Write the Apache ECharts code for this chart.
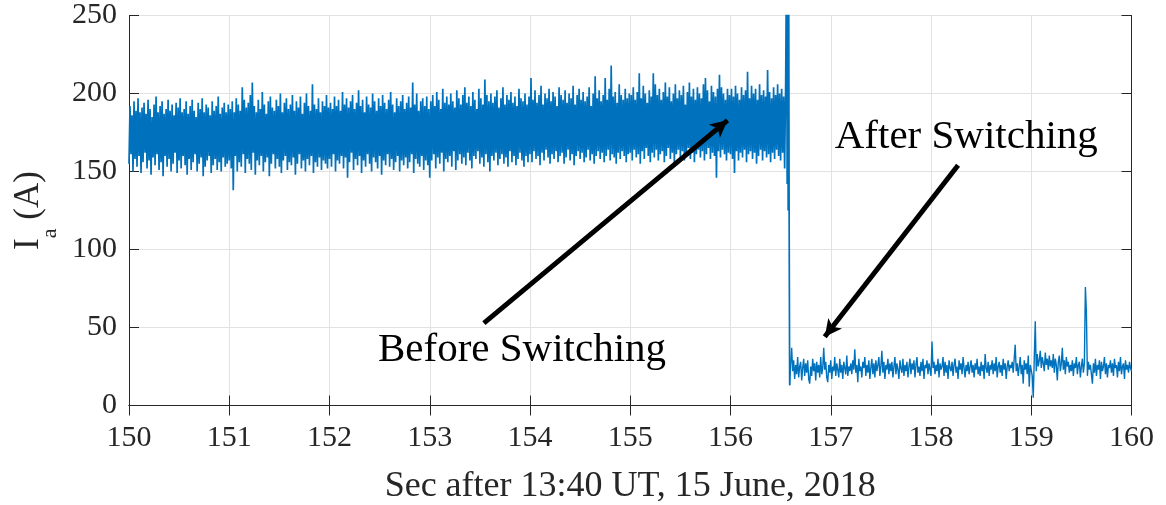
<!DOCTYPE html>
<html>
<head>
<meta charset="utf-8">
<script src="https://cdn.jsdelivr.net/npm/echarts@6/dist/echarts.min.js"></script>
<style>
  html, body { margin: 0; padding: 0; background: #fff; }
  #chart { width: 1166px; height: 505px; }
</style>
</head>
<body>
<div id="chart"></div>
<script>
// Phase-a current before switching: per-column minimum / maximum, one column every 20 ms from 150.00 s
const BEFORE_T0 = 150.00;
const BEFORE_STEP = 0.02;
const beforeMax = [
  192,186,195,189,197,188,191,194,187,196, 190,185,193,198,188,192,195,187,190,196, 189,193,186,194,191,197,188,190,195,187, 192,196,189,185,194,190,197,188,193,191, 186,195,189,192,198,187,191,194,188,193,
  190,195,188,197,193,189,204,196,191,194, 199,207,192,188,196,190,201,193,187,195, 198,191,189,196,192,200,188,194,197,190, 193,199,189,195,191,198,187,194,200,192, 189,206,193,190,197,188,195,192,199,191,
  194,190,198,192,196,189,201,193,197,191, 195,199,190,194,202,192,196,188,198,193, 191,200,195,189,197,192,199,194,190,196, 201,193,188,197,192,195,199,190,194,198, 191,207,193,200,189,195,197,192,198,190,
  195,199,192,201,196,190,203,194,198,193, 200,195,191,202,197,193,199,204,194,198, 192,201,196,190,203,197,193,209,199,195, 200,194,198,202,191,197,204,193,199,196, 201,194,198,192,203,197,195,200,193,198,
  210,196,202,194,199,205,193,200,197,203, 195,201,198,192,204,199,196,202,194,200, 197,205,193,199,203,196,201,195,198,204, 192,200,211,197,202,195,199,210,196,203, 218,198,201,194,206,199,196,203,197,200,
  199,204,196,201,213,197,205,200,194,202, 198,213,206,199,203,196,201,207,198,204, 195,200,206,197,202,199,205,193,201,207, 198,203,196,204,200,197,206,210,202,195, 205,201,198,203,212,204,200,196,203,199,
  203,198,205,200,196,204,199,202,214,197, 205,200,203,196,206,199,202,198,215,201, 197,204,199,206,200,203,198,205
];
const beforeMin = [
  155,161,150,158,153,160,149,156,162,152, 157,148,159,154,161,151,156,147,160,153, 158,150,155,162,149,157,152,160,154,148, 158,151,156,161,150,155,159,147,153,157, 160,149,154,158,151,156,150,159,153,155,
  157,152,138,160,150,156,153,161,149,158, 155,151,162,148,157,154,160,150,156,159, 147,155,161,152,158,153,149,157,160,151, 156,154,159,148,155,161,152,157,150,158, 154,160,149,156,153,159,151,157,155,152,
  158,153,161,150,157,155,160,152,159,146, 156,162,151,158,154,160,149,157,153,161, 155,150,159,156,152,160,148,157,154,161, 153,158,151,156,160,150,157,154,159,152, 156,161,149,158,155,153,160,151,157,154,
  146,157,161,152,159,155,162,150,158,156, 160,153,163,151,157,161,155,159,154,162, 157,152,160,158,163,155,159,153,161,156, 150,160,157,162,154,158,161,155,159,153, 163,156,160,154,158,162,157,153,160,156,
  161,156,163,158,160,154,162,157,164,159, 155,161,158,163,156,160,162,155,159,164, 157,161,154,160,163,158,162,156,159,164, 157,161,155,160,163,158,162,156,160,164, 157,161,159,155,162,158,163,160,156,161,
  162,157,164,159,161,155,163,158,165,160, 156,162,159,164,157,161,163,156,160,165, 158,162,155,161,164,159,163,157,160,165, 158,162,156,161,164,159,163,157,161,165, 158,162,160,146,163,159,164,161,157,162,
  161,158,149,163,157,162,159,164,156,161, 163,158,162,155,160,164,157,163,159,161, 156,162,158,164,160,157,162,152
];

// Switching transient
const switchTimes   = [156.560, 156.565, 156.570, 156.575, 156.580, 156.585, 156.590];
const switchCurrent = [300, 142, 300, 125, 300, 120, 13];

// Phase-a current after switching, one sample every 10 ms from 156.60 s
const AFTER_T0 = 156.60;
const AFTER_STEP = 0.01;
const afterCurrent = [
  27,37,22,29,17,26,20,31,18,25, 28,16,24,30,19,27,21,29,17,14,
  25,19,30,22,27,16,28,21,26,18, 31,20,24,37,23,28,18,15,26,21,
  29,17,25,22,31,19,27,23,18,30, 21,26,17,28,24,20,32,19,25,22,
  27,20,29,23,36,21,26,15,30,22, 25,18,28,24,31,19,26,21,29,17,
  24,30,20,27,18,29,22,26,31,19, 25,35,21,28,17,26,23,30,20,27,
  22,28,18,25,31,20,27,23,17,29, 24,21,30,19,26,22,28,18,25,30,
  20,27,23,29,18,26,31,21,25,19, 28,22,30,17,26,24,29,20,27,23,
  19,41,24,28,20,26,22,30,18,27, 23,25,31,19,28,21,26,17,29,24,
  22,28,19,26,30,21,25,17,29,23, 27,20,31,24,18,26,22,28,20,25,
  29,21,26,18,27,23,30,20,25,19, 28,22,26,17,33,24,21,28,19,26,
  23,29,20,27,22,31,18,25,28,21, 26,19,30,23,27,17,25,29,22,26,
  24,28,21,30,39,22,27,19,25,31, 20,26,14,29,23,27,20,32,12,26,
  27,19,5,30,54,22,33,25,29,35, 24,31,27,22,34,26,30,23,32,25,
  29,24,33,21,30,26,16,28,32,22, 27,37,23,29,20,31,25,28,21,26,
  22,29,19,27,24,31,20,26,28,18, 25,30,21,27,76,60,19,28,23,26,
  25,14,27,21,30,19,26,23,29,17, 28,22,25,31,20,27,18,26,24,29,
  21,27,19,30,24,26,18,28,22,31, 20,25,27,17,29,23,26,21,28,24,
  22
];

// Axis ranges
const X_MIN = 150, X_MAX = 160, X_STEP = 1;
const Y_MIN = 0, Y_MAX = 250, Y_STEP = 50;

// Text notes and arrows (data coordinates)
const notes = [
  { text: 'Before Switching', at: [152.484, 35.5] },
  { text: 'After Switching',  at: [157.04, 172.2] }
];
const arrows = [
  { from: [153.54, 52.8],  to: [155.97, 182.8] },
  { from: [158.27, 154.0], to: [156.94, 44.1] }
];

const FONT = '"Liberation Serif", "Times New Roman", serif';
const AXIS_COLOR = '#262626';
const LINE_COLOR = '#0072BD';

// Before switching: envelope columns drawn as a min→max zigzag, followed by the transient
const traceBefore = [];
for (let i = 0; i < beforeMax.length; i++) {
  const t = BEFORE_T0 + i * BEFORE_STEP;
  traceBefore.push([t, beforeMin[i]]);
  traceBefore.push([t + BEFORE_STEP / 2, beforeMax[i]]);
}
for (let i = 0; i < switchTimes.length; i++) {
  traceBefore.push([switchTimes[i], switchCurrent[i]]);
}
// After switching: continues from the last transient sample
const traceAfter = [[switchTimes[switchTimes.length - 1], switchCurrent[switchCurrent.length - 1]]];
for (let i = 0; i < afterCurrent.length; i++) {
  traceAfter.push([AFTER_T0 + i * AFTER_STEP, afterCurrent[i]]);
}

const tickStyle = { show: true, inside: true, length: 10, lineStyle: { color: AXIS_COLOR, width: 1 } };
const lineStyle = { show: true, lineStyle: { color: AXIS_COLOR, width: 1 } };
const gridLine = { show: true, lineStyle: { color: '#e2e2e2', width: 1 } };

const option = {
  animation: false,
  backgroundColor: '#fff',
  grid: { left: 129, right: 34.5, top: 15.5, bottom: 99.5, containLabel: false, outerBoundsMode: 'none' },
  xAxis: [
    {
      type: 'value', min: X_MIN, max: X_MAX, interval: X_STEP, position: 'bottom',
      axisLine: lineStyle, axisTick: tickStyle, splitLine: gridLine,
      axisLabel: { color: AXIS_COLOR, fontFamily: FONT, fontSize: 30, margin: 18, showMinLabel: true, showMaxLabel: true },
      name: 'Sec after 13:40 UT, 15 June, 2018',
      nameLocation: 'middle', nameGap: 63,
      nameTextStyle: { color: AXIS_COLOR, fontFamily: FONT, fontSize: 36 }
    },
    {
      type: 'value', min: X_MIN, max: X_MAX, interval: X_STEP, position: 'top',
      axisLine: lineStyle, axisTick: tickStyle, splitLine: { show: false },
      axisLabel: { show: false }
    }
  ],
  yAxis: [
    {
      type: 'value', min: Y_MIN, max: Y_MAX, interval: Y_STEP, position: 'left',
      axisLine: lineStyle, axisTick: tickStyle, splitLine: gridLine,
      axisLabel: { color: AXIS_COLOR, fontFamily: FONT, fontSize: 30, margin: 12, showMinLabel: true, showMaxLabel: true },
      name: '{m|I}{s|a}{m| (A)}',
      nameLocation: 'middle', nameGap: 80,
      nameTextStyle: {
        color: AXIS_COLOR, fontFamily: FONT,
        rich: {
          m: { fontFamily: FONT, fontSize: 35, lineHeight: 36, verticalAlign: 'top', color: AXIS_COLOR },
          s: { fontFamily: FONT, fontSize: 22, lineHeight: 20, padding: [28, 0, 0, 0], verticalAlign: 'top', color: AXIS_COLOR }
        }
      }
    },
    {
      type: 'value', min: Y_MIN, max: Y_MAX, interval: Y_STEP, position: 'right',
      axisLine: lineStyle, axisTick: tickStyle, splitLine: { show: false },
      axisLabel: { show: false }
    }
  ],
  series: [
    {
      type: 'line',
      xAxisIndex: 0, yAxisIndex: 0,
      data: traceBefore,
      showSymbol: false,
      symbol: 'none',
      clip: true,
      silent: true,
      lineStyle: { color: LINE_COLOR, width: 1.7 },
      emphasis: { disabled: true }
    },
    {
      type: 'line',
      xAxisIndex: 0, yAxisIndex: 0,
      data: traceAfter,
      showSymbol: false,
      symbol: 'none',
      clip: true,
      silent: true,
      lineStyle: { color: LINE_COLOR, width: 1.4 },
      emphasis: { disabled: true },
      markLine: {
        silent: true,
        animation: false,
        symbol: ['none', 'arrow'],
        symbolSize: [13, 17],
        label: { show: false },
        emphasis: { disabled: true },
        lineStyle: { color: '#000', width: 5, type: 'solid', opacity: 1 },
        itemStyle: { color: '#000' },
        data: arrows.map(a => [{ coord: a.from }, { coord: a.to }])
      }
    }
  ]
};

const chart = echarts.init(document.getElementById('chart'), null, { renderer: 'canvas' });
chart.setOption(option);

// Place the text notes at their data positions
const noteGraphics = notes.map(n => {
  const p = chart.convertToPixel({ xAxisIndex: 0, yAxisIndex: 0 }, n.at);
  return {
    type: 'text', x: p[0], y: p[1], silent: true, z: 100,
    style: { text: n.text, fontFamily: FONT, fontSize: 41, fill: '#000', align: 'left', verticalAlign: 'middle' }
  };
});
chart.setOption({ graphic: noteGraphics });
</script>
</body>
</html>
